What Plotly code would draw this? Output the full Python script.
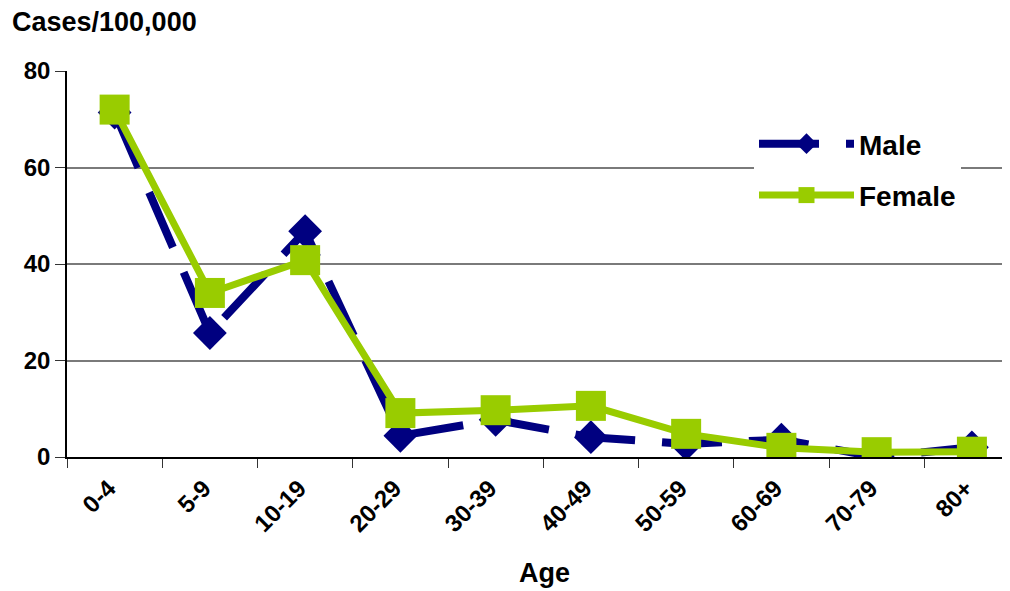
import plotly.graph_objects as go

ages = ["0-4", "5-9", "10-19", "20-29", "30-39", "40-49", "50-59", "60-69", "70-79", "80+"]
male = [71.4, 25.7, 46.8, 4.4, 7.7, 4.1, 2.7, 3.6, 0.0, 2.0]
female = [72.0, 34.0, 40.8, 9.1, 9.7, 10.6, 4.8, 1.9, 1.0, 1.1]
y_ticks = [0, 20, 40, 60, 80]

FONT = "Liberation Sans, Arial, sans-serif"
NAVY = "#000080"
GREEN = "#99CC00"

OFF = 8  # page body offset
W, H = 1010 - OFF, 591 - OFF
# target page pixel geometry of the plot area
PL, PR, PT, PB = 67, 1010, 71, 457
ML, MR, MT, MB = PL - OFF, (1010 - OFF) - (PR - OFF), PT - OFF, H - (PB - OFF)
PW = W - ML - MR
PH = H - MT - MB


def px_x(p):
    return (p - PL) / PW


def px_y(p):
    return (PB - p) / PH


fig = go.Figure()
fig.add_trace(go.Scatter(
    x=ages, y=male, name="<b>Male</b>", mode="lines+markers", legendgroup="m",
    line=dict(color=NAVY, width=8, dash="60px,27px"),
    marker=dict(symbol="diamond", size=26, color=NAVY),
))
fig.add_trace(go.Scatter(
    x=ages, y=female, name="<b>Female</b>", mode="lines+markers", legendgroup="f",
    line=dict(color=GREEN, width=7),
    marker=dict(symbol="square", size=30, color=GREEN),
))

fig.update_layout(
    width=W, height=H,
    margin=dict(l=ML, r=MR, t=MT, b=MB, pad=0),
    paper_bgcolor="white", plot_bgcolor="white",
    font=dict(family=FONT, color="black"),
    showlegend=True,
    legend=dict(
        x=px_x(754), y=px_y(119), xanchor="left", yanchor="top",
        bgcolor="white", font=dict(size=28, family=FONT, color="black"),
        itemwidth=95, tracegroupgap=12,
    ),
    annotations=[
        dict(text="<b>Cases/100,000</b>", x=px_x(10), y=px_y(22),
             xref="paper", yref="paper", xanchor="left", yanchor="middle",
             showarrow=False, font=dict(size=27, family=FONT)),
        dict(text="<b>Age</b>", x=px_x(544), y=px_y(573),
             xref="paper", yref="paper", xanchor="center", yanchor="middle",
             showarrow=False, font=dict(size=27, family=FONT)),
    ],
    shapes=[dict(type="rect", xref="paper", yref="paper", layer="between",
                 x0=px_x(716), x1=px_x(1002), y0=px_y(172), y1=px_y(162),
                 fillcolor="white", line=dict(width=0))],
)

fig.update_xaxes(
    type="category", range=[-0.5, 9.4], automargin=False,
    tickangle=-45, tickfont=dict(size=24, family=FONT),
    tickprefix="<b>", ticksuffix="</b>",
    ticklabelstandoff=6, ticklabelshift=-6,
    ticks="outside", ticklen=9, tickson="boundaries", tickcolor="#333333",
    showline=True, linecolor="black", linewidth=1.5,
    showgrid=False, zeroline=False,
)
fig.update_yaxes(
    range=[0, 80], tickvals=y_ticks, automargin=False,
    ticktext=[f"<b>{v}</b>" for v in y_ticks],
    tickfont=dict(size=24, family=FONT),
    ticks="outside", ticklen=10, tickcolor="#333333",
    showline=True, linecolor="black", linewidth=1.5,
    showgrid=True, gridcolor="#7a7a7a", gridwidth=1.5,
    zeroline=False,
)

fig.write_html("out.html")
